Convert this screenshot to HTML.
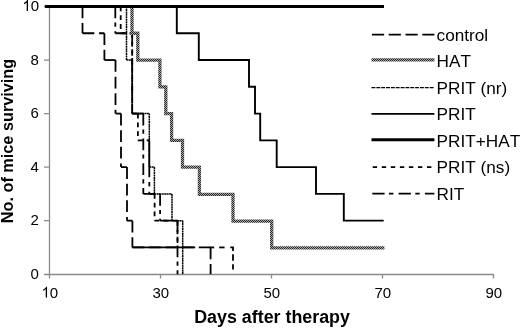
<!DOCTYPE html>
<html><head><meta charset="utf-8"><style>
html,body{margin:0;padding:0;background:#fff;}
body{width:520px;height:328px;overflow:hidden;}
svg{display:block;filter:grayscale(1);}
text{font-kerning:none;font-feature-settings:"kern" 0;}
</style></head><body>
<svg width="520" height="328" viewBox="0 0 520 328">
<rect width="520" height="328" fill="#fff"/>
<defs><pattern id="chk" width="2" height="2" patternUnits="userSpaceOnUse"><rect width="2" height="2" fill="#a8a8a8"/><rect width="1" height="1" fill="#262626"/><rect x="1" y="1" width="1" height="1" fill="#262626"/></pattern></defs>
<path d="M49.5,6.5 V274.5 M49,274.5 H494" stroke="#8a8a8a" stroke-width="1.3" fill="none"/>
<path d="M44,274.50 H49.5 M44,220.66 H49.5 M44,167.12 H49.5 M44,113.58 H49.5 M44,60.04 H49.5 M44,6.50 H49.5 M49.5,274.5 V278.5 M160.5,274.5 V278.5 M271.5,274.5 V278.5 M382.5,274.5 V278.5 M493.5,274.5 V278.5 " stroke="#8a8a8a" stroke-width="1.3" fill="none"/>
<g font-family="Liberation Sans" font-size="15" fill="#000"><text x="38.9" y="278.80" text-anchor="end">0</text><text x="38.9" y="225.26" text-anchor="end">2</text><text x="38.9" y="171.72" text-anchor="end">4</text><text x="38.9" y="118.18" text-anchor="end">6</text><text x="38.9" y="64.64" text-anchor="end">8</text><path transform="translate(22.42,10.90) scale(0.007324,-0.007324)" d="M763 0H583V1147Q518 1085 412.5 1023Q307 961 223 930V1104Q374 1175 487 1276Q600 1377 647 1472H763V0Z"/><text x="30.76" y="10.90">0</text><path transform="translate(41.46,297.50) scale(0.007324,-0.007324)" d="M763 0H583V1147Q518 1085 412.5 1023Q307 961 223 930V1104Q374 1175 487 1276Q600 1377 647 1472H763V0Z"/><text x="49.80" y="297.50">0</text><text x="160.8" y="297.5" text-anchor="middle">30</text><text x="271.8" y="297.5" text-anchor="middle">50</text><text x="382.8" y="297.5" text-anchor="middle">70</text><text x="493.8" y="297.5" text-anchor="middle">90</text></g>
<g stroke="#000" stroke-width="1.8" fill="none" stroke-linecap="butt"><line x1="82.50" y1="6.50" x2="82.50" y2="33.27" stroke-dasharray="11.8 4.8"/><line x1="82.50" y1="33.27" x2="104.40" y2="33.27" stroke-dasharray="11.8 4.8"/><line x1="104.40" y1="33.27" x2="104.40" y2="60.04" stroke-dasharray="11.8 4.8"/><line x1="104.40" y1="60.04" x2="115.50" y2="60.04" stroke-dasharray="11.8 4.8"/><line x1="115.50" y1="60.04" x2="115.50" y2="113.58" stroke-dasharray="11.8 4.8"/><line x1="115.50" y1="113.58" x2="121.00" y2="113.58" stroke-dasharray="11.8 4.8"/><line x1="121.00" y1="113.58" x2="121.00" y2="167.12" stroke-dasharray="11.8 4.8"/><line x1="121.00" y1="167.12" x2="127.00" y2="167.12" stroke-dasharray="11.8 4.8"/><line x1="127.00" y1="167.12" x2="127.00" y2="220.66" stroke-dasharray="11.8 4.8"/><line x1="127.00" y1="220.66" x2="132.40" y2="220.66" stroke-dasharray="11.8 4.8"/><line x1="132.40" y1="220.66" x2="132.40" y2="247.43" stroke-dasharray="11.8 4.8"/><line x1="132.40" y1="247.43" x2="210.60" y2="247.43" stroke-dasharray="11.8 4.8"/><line x1="210.60" y1="247.43" x2="210.60" y2="274.20" stroke-dasharray="11.8 4.8"/></g>
<g stroke="#000" stroke-width="1.5" fill="none" stroke-linecap="butt"><line x1="126.50" y1="6.50" x2="126.50" y2="60.04" stroke-dasharray="2 0.45"/><line x1="126.50" y1="60.04" x2="132.20" y2="60.04" stroke-dasharray="2 0.45"/><line x1="132.20" y1="60.04" x2="132.20" y2="113.58" stroke-dasharray="2 0.45"/><line x1="132.20" y1="113.58" x2="149.30" y2="113.58" stroke-dasharray="2 0.45"/><line x1="149.30" y1="113.58" x2="149.30" y2="167.12" stroke-dasharray="2 0.45"/><line x1="149.30" y1="167.12" x2="154.40" y2="167.12" stroke-dasharray="2 0.45"/><line x1="154.40" y1="167.12" x2="154.40" y2="193.89" stroke-dasharray="2 0.45"/><line x1="154.40" y1="193.89" x2="172.00" y2="193.89" stroke-dasharray="2 0.45"/><line x1="172.00" y1="193.89" x2="172.00" y2="220.66" stroke-dasharray="2 0.45"/><line x1="172.00" y1="220.66" x2="182.70" y2="220.66" stroke-dasharray="2 0.45"/><line x1="182.70" y1="220.66" x2="182.70" y2="274.20" stroke-dasharray="2 0.45"/></g>
<g stroke="#000" stroke-width="1.8" fill="none" stroke-linecap="butt"><line x1="120.70" y1="6.50" x2="120.70" y2="33.27" stroke-dasharray="4.8 4"/><line x1="120.70" y1="33.27" x2="132.20" y2="33.27" stroke-dasharray="4.8 4"/><line x1="132.20" y1="33.27" x2="132.20" y2="113.58" stroke-dasharray="4.8 4"/><line x1="132.20" y1="113.58" x2="137.90" y2="113.58" stroke-dasharray="4.8 4"/><line x1="137.90" y1="113.58" x2="137.90" y2="140.35" stroke-dasharray="4.8 4"/><line x1="137.90" y1="140.35" x2="149.30" y2="140.35" stroke-dasharray="4.8 4"/><line x1="149.30" y1="193.89" x2="154.60" y2="193.89" stroke-dasharray="4.8 4"/><line x1="154.60" y1="193.89" x2="154.60" y2="220.66" stroke-dasharray="4.8 4"/><line x1="154.60" y1="220.66" x2="177.50" y2="220.66" stroke-dasharray="4.8 4"/><line x1="177.50" y1="220.66" x2="177.50" y2="247.43" stroke-dasharray="4.8 4"/></g>
<g stroke="#000" stroke-width="1.8" fill="none" stroke-linecap="butt"><line x1="115.30" y1="6.50" x2="115.30" y2="33.27" stroke-dasharray="11.8 4.2 4.2 4.6"/><line x1="115.30" y1="33.27" x2="132.20" y2="33.27" stroke-dasharray="11.8 4.2 4.2 4.6"/><line x1="132.20" y1="33.27" x2="132.20" y2="113.58" stroke-dasharray="11.8 4.2 4.2 4.6"/><line x1="132.20" y1="113.58" x2="143.30" y2="113.58" stroke-dasharray="11.8 4.2 4.2 4.6"/><line x1="143.30" y1="113.58" x2="143.30" y2="193.89" stroke-dasharray="11.8 4.2 4.2 4.6"/><line x1="143.30" y1="193.89" x2="160.10" y2="193.89" stroke-dasharray="11.8 4.2 4.2 4.6"/><line x1="160.10" y1="193.89" x2="160.10" y2="220.66" stroke-dasharray="11.8 4.2 4.2 4.6"/><line x1="160.10" y1="220.66" x2="177.50" y2="220.66" stroke-dasharray="11.8 4.2 4.2 4.6"/><line x1="177.50" y1="220.66" x2="177.50" y2="274.20" stroke-dasharray="11.8 4.2 4.2 4.6"/></g>
<g stroke="#000" stroke-width="1.8"><line x1="149.3" y1="140.35" x2="149.3" y2="177.2"/><line x1="149.3" y1="182" x2="149.3" y2="186.4"/><line x1="149.3" y1="191.8" x2="149.3" y2="193.89"/></g>
<g stroke="#000" stroke-width="1.8"><line x1="209.5" y1="247.43" x2="214.2" y2="247.43"/><line x1="219.2" y1="247.43" x2="224.6" y2="247.43"/><path d="M230.3,247.43 H233 V251" fill="none"/><line x1="233" y1="254.3" x2="233" y2="260.8"/><line x1="233" y1="264.3" x2="233" y2="269.6"/></g>
<line x1="132.4" y1="247.43" x2="195.2" y2="247.43" stroke="#000" stroke-width="1.8"/>
<path d="M176.80,6.50 L176.80,33.27 L198.80,33.27 L198.80,60.04 L249.00,60.04 L249.00,86.81 L255.00,86.81 L255.00,113.58 L260.20,113.58 L260.20,140.35 L276.70,140.35 L276.70,167.12 L316.00,167.12 L316.00,193.89 L343.80,193.89 L343.80,220.66 L383.70,220.66" fill="none" stroke="#000" stroke-width="1.9" stroke-linejoin="miter" stroke-linecap="butt"/>
<path d="M132.00,6.50 L132.00,33.27 L137.80,33.27 L137.80,60.04 L159.90,60.04 L159.90,86.81 L165.80,86.81 L165.80,113.58 L171.60,113.58 L171.60,140.35 L182.50,140.35 L182.50,167.12 L199.40,167.12 L199.40,194.29 L233.00,194.29 L233.00,221.06 L271.70,221.06 L271.70,247.83 L384.40,247.83" fill="none" stroke="url(#chk)" stroke-width="3.3" stroke-linejoin="miter" stroke-linecap="butt"/>
<line x1="44.9" y1="6.5" x2="384" y2="6.5" stroke="#000" stroke-width="3"/>
<line x1="371.9" y1="34.60" x2="434.4" y2="34.60" stroke="#000" stroke-width="1.6" stroke-dasharray="12.2 4.6"/><text x="436.6" y="40.70" font-family="Liberation Sans" font-size="17.2">control</text><line x1="371.5" y1="59.90" x2="434.4" y2="59.90" stroke="url(#chk)" stroke-width="3.3"/><text x="436.6" y="67.20" font-family="Liberation Sans" font-size="17.2">HAT</text><line x1="371.5" y1="87.70" x2="434.4" y2="87.70" stroke="#000" stroke-width="1.3" stroke-dasharray="3.9 0.95"/><text x="436.6" y="93.70" font-family="Liberation Sans" font-size="17.2">PRIT (nr)</text><line x1="371.5" y1="113.90" x2="434.4" y2="113.90" stroke="#000" stroke-width="1.9"/><text x="436.6" y="120.20" font-family="Liberation Sans" font-size="17.2">PRIT</text><line x1="371.5" y1="139.70" x2="434.4" y2="139.70" stroke="#000" stroke-width="3"/><text x="436.6" y="146.70" font-family="Liberation Sans" font-size="17.2">PRIT+HAT</text><line x1="372.7" y1="167.10" x2="431.8" y2="167.10" stroke="#000" stroke-width="1.8" stroke-dasharray="4.4 4.65"/><text x="436.6" y="173.20" font-family="Liberation Sans" font-size="17.2">PRIT (ns)</text><line x1="372.3" y1="193.70" x2="434.4" y2="193.70" stroke="#000" stroke-width="1.8" stroke-dasharray="12.3 4.4 4.4 5.2"/><text x="436.6" y="199.70" font-family="Liberation Sans" font-size="17.2">RIT</text>
<text x="272.1" y="322.6" text-anchor="middle" font-family="Liberation Sans" font-weight="bold" font-size="17.85">Days after therapy</text>
<text transform="translate(13.4,141.0) rotate(-90)" x="0" y="0" text-anchor="middle" font-family="Liberation Sans" font-weight="bold" font-size="16.25">No. of mice surviving</text>
</svg>
</body></html>
